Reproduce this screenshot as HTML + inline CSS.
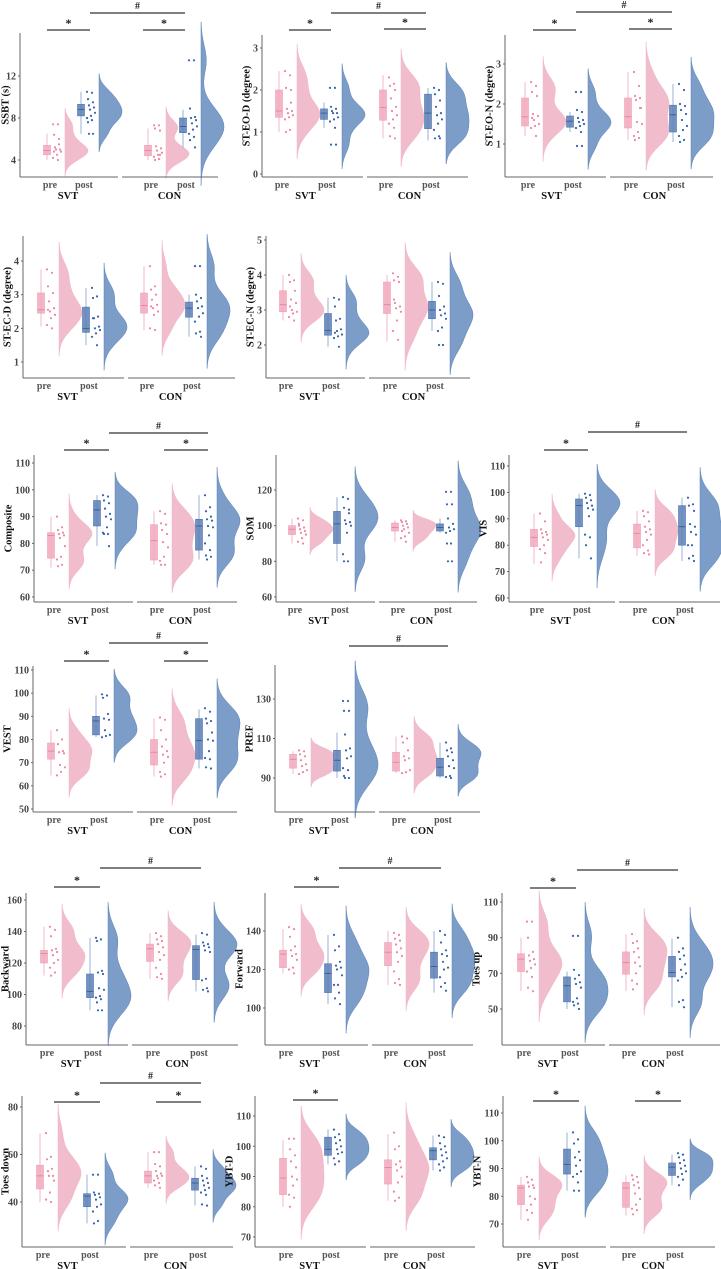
<!DOCTYPE html>
<html><head><meta charset="utf-8"><style>
html,body{margin:0;padding:0;background:#fff;}
svg{display:block;font-family:"Liberation Serif",serif;}
</style></head><body>
<svg id="fig" width="721" height="1269" viewBox="0 0 721 1269"></svg>
<script>
// ---- data: box = [lowWhisker, q1, median, q3, highWhisker]; order SVT-pre, SVT-post, CON-pre, CON-post
const ssbt_box=[[4,4.5,4.9,5.4,6.5],[6.5,8.2,8.8,9.3,10.5],[4,4.4,4.9,5.4,7],[5.1,6.6,7.2,8,8.8]];
const ssbt_pts=[[7.4,7.4,6.4,6,5.2,5,5,4.8,4.5,4.2,4,4.8,5.5],[10.5,10.4,9.8,9.5,9.2,9,8.8,8.5,8.2,8,7.8,7.6,6.5,6.5],[7.3,7.3,7,6.8,5.3,5.1,4.9,4.7,4.5,4.3,4.1,4,4.5],[13.5,13.5,8.9,8.1,8,7.8,7.5,7.2,6.9,6.5,6.2,5.9,5.2]];
const ssbt_ticks=[4,8,12];
const eod_box=[[1,1.35,1.5,2,2.45],[1.1,1.3,1.45,1.55,1.7],[0.85,1.28,1.58,2,2.35],[0.8,1.08,1.45,1.9,2.05]];
const eod_pts=[[2.45,2.35,2.05,2,1.55,1.5,1.45,1.4,1.35,1.3,1.05,1,1.7],[2.05,2.05,1.6,1.55,1.5,1.45,1.45,1.35,1.3,1.25,1.1,0.7,0.7],[2.3,2.15,2.1,2,1.8,1.6,1.5,1.4,1.3,1.2,1.1,0.9,0.85],[2.05,2,1.9,1.75,1.6,1.45,1.4,1.3,1.2,1.05,0.9,0.85,0.85]];
const eod_ticks=[0,1,2,3];
const eon_box=[[1.2,1.45,1.68,2.15,2.55],[1.3,1.42,1.57,1.7,1.8],[1.1,1.4,1.68,2.15,2.8],[1.05,1.3,1.73,1.97,2.5]];
const eon_pts=[[2.55,2.45,2.3,2.2,1.75,1.7,1.6,1.5,1.45,1.4,1.2,1.65],[2.3,2.3,1.85,1.8,1.65,1.6,1.55,1.5,1.45,1.4,1.3,0.95,0.95],[2.8,2.45,2.2,2.15,2.1,1.9,1.55,1.5,1.3,1.2,1.15,1.1,1.9],[2.5,2.35,2,1.95,1.85,1.75,1.6,1.45,1.35,1.2,1.1,1.05]];
const eon_ticks=[1,2,3];
const ecd_box=[[2.05,2.45,2.55,3.05,3.75],[1.5,1.88,2,2.63,3.2],[1.95,2.45,2.68,3.05,3.85],[1.75,2.33,2.6,2.78,3]];
const ecd_pts=[[3.75,3.65,3.25,3.05,2.8,2.6,2.5,2.4,2.3,2.1,2,2.55],[3.2,2.95,2.9,2.35,2.3,2.05,2,1.95,1.85,1.75,1.5,2.3],[3.85,3.25,3.15,3,2.85,2.7,2.6,2.5,2.4,2,1.95,2.65],[3.85,3.85,3,2.9,2.8,2.65,2.6,2.45,2.35,2.2,1.9,1.85,1.75]];
const ecd_ticks=[1,2,3,4];
const ecn_box=[[2.7,2.95,3.15,3.55,4],[1.95,2.28,2.42,2.9,3.35],[2.1,2.9,3.15,3.8,4],[2.4,2.75,3,3.25,3.8]];
const ecn_pts=[[4,3.85,3.8,3.55,3.3,3.2,3,2.95,2.9,2.8,2.7,3.1],[3.35,3.3,3.1,2.75,2.7,2.45,2.4,2.3,2.25,2.2,1.95,2.35],[4.05,3.95,3.85,3.8,3.2,3.1,3.05,2.95,2.7,2.4,2.15,3.3],[3.8,3.75,3.4,3.1,3,2.9,2.85,2.75,2.5,2.4,2,2]];
const ecn_ticks=[2,3,4,5];
const comp_box=[[71,74.5,83,84,90],[79,86.5,92.5,96,98],[72,73.8,81,87,92],[74,77.5,86.5,89,98]];
const comp_pts=[[90,86,85,84,83.5,83,82,79,75,74,72,71.5],[98,97.5,96,95,93,91,90,89,86,84,83.5,83.5,79],[92,91,87.5,87,85,83.5,80.5,78.5,75,73.5,72,72],[98,93.5,92,90,89,88.5,86.5,86,83,80,77.5,75.5,75,74]];
const comp_ticks=[60,70,80,90,100,110];
const som_box=[[90,95,98,100,104],[80,90,101,108,116],[91,97,99,101.5,103],[96,97,99,101,104]];
const som_pts=[[104,103,101,99,98,97,96,95,93,91,90,100],[116,115,110,109,103,102,101,100,96,84,80,80,107],[103,102.5,102,101,100,99,98,96,94,93,91,97],[119,119,112,112,104,101,99,98,97,96,90,90,80,80]];
const som_ticks=[60,80,100,120];
const vis_box=[[73,79.5,83,86,92],[75,87,95,97.5,99.5],[76,79,84.5,88,93],[74,80,87,95,98]];
const vis_pts=[[92,89,86,85,84.5,84,83,82,80,78.5,77,73.5],[99.5,99,98,97,96,95,94,93.5,91,84,83,80,75],[93,92.5,91,89,87,86,85,84,82,80,78,77,76.5],[98,95.5,95,93,88,87,85,84,80,80,76,75,74]];
const vis_ticks=[60,70,80,90,100,110];
const vest_box=[[64.5,71.5,75,78.5,84],[81,82,88,90,99],[64,69,74.5,80,89],[67.5,71.5,79.5,89,93]];
const vest_pts=[[84,80,78,75,74.5,74,69,68,66,64.5],[99.5,99,98,91,89,88.5,84,82,81.5,81],[89.5,88.5,84,80,77,75,73.5,72.5,70,66,65,64],[93.5,92,89,88,87,83,80,79.5,75,72,71.5,68,67.5]];
const vest_ticks=[50,60,70,80,90,100,110];
const pref_box=[[92,95,99.5,102,103.5],[90,93.5,99,104,113],[92.5,93.5,98,103,111],[90,91,95.5,100,108]];
const pref_pts=[[104,103.5,102,101,99,97,96,94,93,92],[129,129,124,124,112,105,104,101,100,95,94,91,90,90],[111,110,108,104,101,100,99,94,93,92.5],[108,105,104,103,101,99,96,95,91,90.5,90]];
const pref_ticks=[90,110,130];
const bwd_box=[[112,120,126,128,143],[90,98,102,113,136],[110,121,129,132,139],[102,109.5,128.5,131,138]];
const bwd_pts=[[143,141,137,129,128,127,125,122,120,117,114,112],[136,135,134,115,114,113,104,103,99,98,97,95,90,90],[139,137,135,134,132,130,127,125,122,117,113,111,110],[139,138,133,132,131,130,128,127,110,109,104,103,102]];
const bwd_ticks=[80,100,120,140,160];
const fwd_box=[[118,121,128,130,141],[102,108,118,123,138],[112,122,129,134,140],[108,115.5,121.5,129,140]];
const fwd_pts=[[142,141,137,132,130,128,127,125,121,120,118],[138,132,130,124,122,121,120,117,112,112,108,105,102],[139,138,136,135,133,131,129,127,124,119,115,113,112],[140,138,134,130,128,127,124,121,120,116,113,111,109]];
const fwd_ticks=[100,120,140];
const tup_box=[[60,71,78,81,90],[50,54,63,68,71],[60,69.5,76,82,92],[51,68,70.5,79.5,89.5]];
const tup_pts=[[99,99,90,82,80,78,77,75,73,71,68,62,60],[91,91,72,69,67,65,64,62,56,54,53,52,50],[92,88,87,84,82,79,76,74,70,66,64,61],[90,84,82,80,78,75,72,70,68,66,55,54,51]];
const tup_ticks=[50,70,90,110];
const tdn_box=[[40,45.5,51,55.5,69],[31,38,42.5,43.5,51.5],[46,48,51,53,61],[38.5,45,48,50,55]];
const tdn_pts=[[69,59,58,54,53,51,51,49,44,41,40],[51.5,51.5,44,43.5,43,42,41,39,38,36,32,31],[61,61,56,55,53,52,51,51,50,49,48,47,46],[55,54,51,50,49,48,47,46,45,44,43,39,38.5]];
const tdn_ticks=[40,60,80];
const ybd_box=[[80,84,89.5,96,102],[94,97,99,103,105.5],[82,87.5,93,95.5,104],[92,95.5,98.5,99.5,103.5]];
const ybd_pts=[[102.5,102.5,99,97,95,93,90,89,87,84,83,80],[105.5,104,103,102,101,100,99,98,97.5,96,95,94],[104.5,100,99,95,94,93,92,90,88,85,83,82],[103.5,103,101,100,99,98,97,96,95,94,93,92]];
const ybd_ticks=[70,80,90,100,110];
const ybn_box=[[71.5,77,83,84,87],[82,88,91.5,97,103],[73,76,83,85,87.5],[84,87.5,90.5,92,95]];
const ybn_pts=[[87,86,85,84,83.5,83,80,79,77,75,74,71.5],[103,100.5,99,96,94,93,91,89,88,87,85,82,82],[87.5,87,86,85,84,83,81,79,77,75.5,75,73.5],[95.5,95,94,93,92,91,90,89,88,87,86,84]];
const ybn_ticks=[70,80,90,100,110];

const panels=[
 {n:'ssbt',t:'SSBT (s)',ax:20,mid:120,rx:218,top:33,bot:177,ref:[4,160,12,76],bx:[47,81,148,183],box:ssbt_box,pts:ssbt_pts,ticks:ssbt_ticks,br:[[47,90,30,'*'],[143,185,30,'*'],[90,185,13,'#']]},
 {n:'st-eo-d',t:'ST-EO-D (degree)',ax:262,mid:365,rx:468,top:35,bot:177,ref:[0,174,3,48],bx:[279,324,383,428],box:eod_box,pts:eod_pts,ticks:eod_ticks,br:[[289,331,30,'*'],[384,426,29,'*'],[331,426,13,'#']]},
 {n:'st-eo-n',t:'ST-EO-N (degree)',ax:505,mid:608,rx:713,top:35,bot:177,ref:[1,144,3,64],bx:[525,570,628,673],box:eon_box,pts:eon_pts,ticks:eon_ticks,br:[[533,576,30,'*'],[629,672,29,'*'],[576,672,12,'#']]},
 {n:'st-ec-d',t:'ST-EC-D (degree)',ax:23,mid:126,rx:235,top:236,bot:378,ref:[1,362,4,261],bx:[41,86,144,189],box:ecd_box,pts:ecd_pts,ticks:ecd_ticks,br:[]},
 {n:'st-ec-n',t:'ST-EC-N (degree)',ax:266,mid:367,rx:470,top:236,bot:378,ref:[2,345,5,240],bx:[283,328,387,432],box:ecn_box,pts:ecn_pts,ticks:ecn_ticks,br:[]},
 {n:'composite',t:'Composite',ax:34,mid:135,rx:237,top:455,bot:602,ref:[60,597,110,463],bx:[51,97,154,199],box:comp_box,pts:comp_pts,ticks:comp_ticks,br:[[64,109,450,'*'],[164,208,450,'*'],[109,208,433,'#']]},
 {n:'som',t:'SOM',ax:276,mid:377,rx:477,top:455,bot:602,ref:[60,597,120,490],bx:[292,337,395,440],box:som_box,pts:som_pts,ticks:som_ticks,br:[]},
 {n:'vis',t:'VIS',ax:509,mid:617,rx:720,top:455,bot:602,ref:[60,598,110,466],bx:[534,579,637,682],box:vis_box,pts:vis_pts,ticks:vis_ticks,br:[[544,588,450,'*'],[588,687,432,'#']]},
 {n:'vest',t:'VEST',ax:33,mid:135,rx:237,top:666,bot:812,ref:[50,809,110,670],bx:[51,96,154,199],box:vest_box,pts:vest_pts,ticks:vest_ticks,br:[[64,109,661,'*'],[164,208,661,'*'],[109,208,643,'#']]},
 {n:'pref',t:'PREF',ax:275,mid:377,rx:480,top:665,bot:812,ref:[90,778,130,699],bx:[293,337,396,440],box:pref_box,pts:pref_pts,ticks:pref_ticks,br:[[349,448,646,'#']]},
 {n:'backward',t:'Backward',ax:26,mid:130,rx:238,top:893,bot:1045,ref:[80,1026,160,900],bx:[44,90,150,196],box:bwd_box,pts:bwd_pts,ticks:bwd_ticks,br:[[54,100,887,'*'],[100,201,868,'#']]},
 {n:'forward',t:'Forward',ax:265,mid:370,rx:473,top:893,bot:1045,ref:[100,1008,140,931],bx:[283,328,388,434],box:fwd_box,pts:fwd_pts,ticks:fwd_ticks,br:[[294,339,887,'*'],[339,441,868,'#']]},
 {n:'toes-up',t:'Toes up',ax:502,mid:607,rx:720,top:893,bot:1045,ref:[50,1009,110,902],bx:[521,567,626,672],box:tup_box,pts:tup_pts,ticks:tup_ticks,br:[[530,576,888,'*'],[577,678,870,'#']]},
 {n:'toes-down',t:'Toes down',ax:22,mid:128,rx:233,top:1096,bot:1247,ref:[40,1202,80,1107],bx:[40,87,148,195],box:tdn_box,pts:tdn_pts,ticks:tdn_ticks,br:[[54,100,1102,'*'],[156,201,1102,'*'],[100,201,1083,'#']]},
 {n:'ybt-d',t:'YBT-D',ax:255,mid:368,rx:475,top:1096,bot:1247,ref:[70,1237,110,1116],bx:[283,328,388,433],box:ybd_box,pts:ybd_pts,ticks:ybd_ticks,br:[[293,338,1100,'*']]},
 {n:'ybt-n',t:'YBT-N',ax:503,mid:608,rx:715,top:1096,bot:1247,ref:[70,1224,110,1113],bx:[521,567,626,672],box:ybn_box,pts:ybn_pts,ticks:ybn_ticks,br:[[533,579,1101,'*'],[635,681,1101,'*']]}
];
const svg=document.getElementById('fig');
const NS='http://www.w3.org/2000/svg';
function mk(tag,attrs,parent,txt){const e=document.createElementNS(NS,tag);for(const k in attrs)e.setAttribute(k,attrs[k]);if(txt!==undefined)e.textContent=txt;parent.appendChild(e);return e;}
const VF=['#f0b6c6','#6e92c2'],BF=['#f2a9bd','#5a7fb6'],BS=['#eda0b6','#4f74ad'],PC=['#ec86a4','#3564ac'],WC=['#f3c3d0','#a9bfdd'];
const GN=['svt-pre','svt-post','con-pre','con-post'];
function kde(pts){const n=pts.length;const m=pts.reduce((a,b)=>a+b,0)/n;const sd=Math.sqrt(pts.reduce((a,b)=>a+(b-m)*(b-m),0)/(n-1))||1;const bw=0.9*sd*Math.pow(n,-0.2);const lo=Math.min(...pts)-2.6*bw,hi=Math.max(...pts)+2.6*bw;const out=[];for(let i=0;i<=80;i++){const v=lo+(hi-lo)*i/80;let d=0;for(const p of pts){const z=(v-p)/bw;d+=Math.exp(-0.5*z*z);}out.push([v,d]);}return out;}
panels.forEach(P=>{
 const g=mk('g',{},svg);
 
 
 const k=(P.ref[3]-P.ref[1])/(P.ref[2]-P.ref[0]);
 const Y=v=>P.ref[1]+(v-P.ref[0])*k;
 P.pts.forEach((pts,i)=>{
  const c=i%2, base=P.bx[i]+18, dens=kde(pts), mx=Math.max(...dens.map(d=>d[1]));
  let d='M'+base+','+Y(dens[0][0]);
  dens.forEach(p=>{d+=' L'+(base+p[1]/mx*23).toFixed(1)+','+Y(p[0]).toFixed(1);});
  d+=' L'+base+','+Y(dens[dens.length-1][0])+' Z';
  const v=mk('path',{d:d,fill:VF[c],'fill-opacity':0.9,stroke:c?'#5c82b8':'#f0b6c6','stroke-width':0.5},g);
  
  
 });
 P.box.forEach((b,i)=>{
  const c=i%2,x=P.bx[i];
  const w=mk('line',{x1:x,x2:x,y1:Y(b[0]),y2:Y(b[4]),stroke:WC[c],'stroke-width':1.2},g);
  
  
  const r=mk('rect',{x:x-3.5,y:Y(b[3]),width:7,height:Math.max(1,Y(b[1])-Y(b[3])),fill:BF[c],'fill-opacity':0.85,stroke:BS[c],'stroke-width':0.6},g);
  
  
  const md=mk('line',{x1:x-3.5,x2:x+3.5,y1:Y(b[2]),y2:Y(b[2]),stroke:c?'#2f5691':'#e27d9a','stroke-width':0.8},g);
  
  
 });
 P.pts.forEach((pts,i)=>{
  const c=i%2;
  pts.forEach((v,j)=>{
   const jx=P.bx[i]+6+((j*5)%9);
   const p=mk('circle',{cx:jx,cy:Y(v).toFixed(1),r:1.1,fill:PC[c]},g);
   
   
  });
 });
 const ya=mk('line',{x1:P.ax,x2:P.ax,y1:P.top,y2:P.bot,stroke:'#666','stroke-width':1},g);
 
 
 const xa1=mk('line',{x1:P.ax,x2:P.mid-2,y1:P.bot,y2:P.bot,stroke:'#666','stroke-width':1},g);
 
 
 const xa2=mk('line',{x1:P.mid+2,x2:P.rx,y1:P.bot,y2:P.bot,stroke:'#666','stroke-width':1},g);
 
 
 let maxc=1;
 P.ticks.forEach(t=>{
  maxc=Math.max(maxc,String(t).length);
  const tl=mk('text',{x:P.ax-4,y:Y(t)+3.5,'text-anchor':'end','font-size':10,'font-weight':'bold',fill:'#444'},g,String(t));
  
  
  mk('line',{x1:P.ax-2,x2:P.ax,y1:Y(t),y2:Y(t),stroke:'#666'},g);
 });
 const tx=Math.max(6,P.ax-4-maxc*5-6);
 const cy=(P.top+P.bot)/2;
 const yt=mk('text',{x:tx,y:cy,transform:'rotate(-90 '+tx+' '+cy+')','text-anchor':'middle','dominant-baseline':'central','font-size':10.5,'font-weight':'bold',fill:'#111'},g,P.t);
 
 
 ['pre','post','pre','post'].forEach((s,i)=>{
  const l=mk('text',{x:P.bx[i]+3,y:P.bot+11,'text-anchor':'middle','font-size':10,'font-weight':'bold',fill:'#555'},g,s);
  
  
 });
 ['SVT','CON'].forEach((s,i)=>{
  const l=mk('text',{x:(P.bx[2*i]+P.bx[2*i+1])/2+4,y:P.bot+22,'text-anchor':'middle','font-size':10.5,'font-weight':'bold',fill:'#111'},g,s);
  
  
 });
 P.br.forEach(b=>{
  const l=mk('line',{x1:b[0],x2:b[1],y1:b[2],y2:b[2],stroke:'#333','stroke-width':1.2},g);
  
  
  const t=mk('text',{x:(b[0]+b[1])/2,y:b[3]==='*'?b[2]-3:b[2]-4,'text-anchor':'middle','font-size':b[3]==='*'?12:10,'font-weight':'bold',fill:'#222'},g,b[3]);
  
  
 });
});
</script>
</body></html>
